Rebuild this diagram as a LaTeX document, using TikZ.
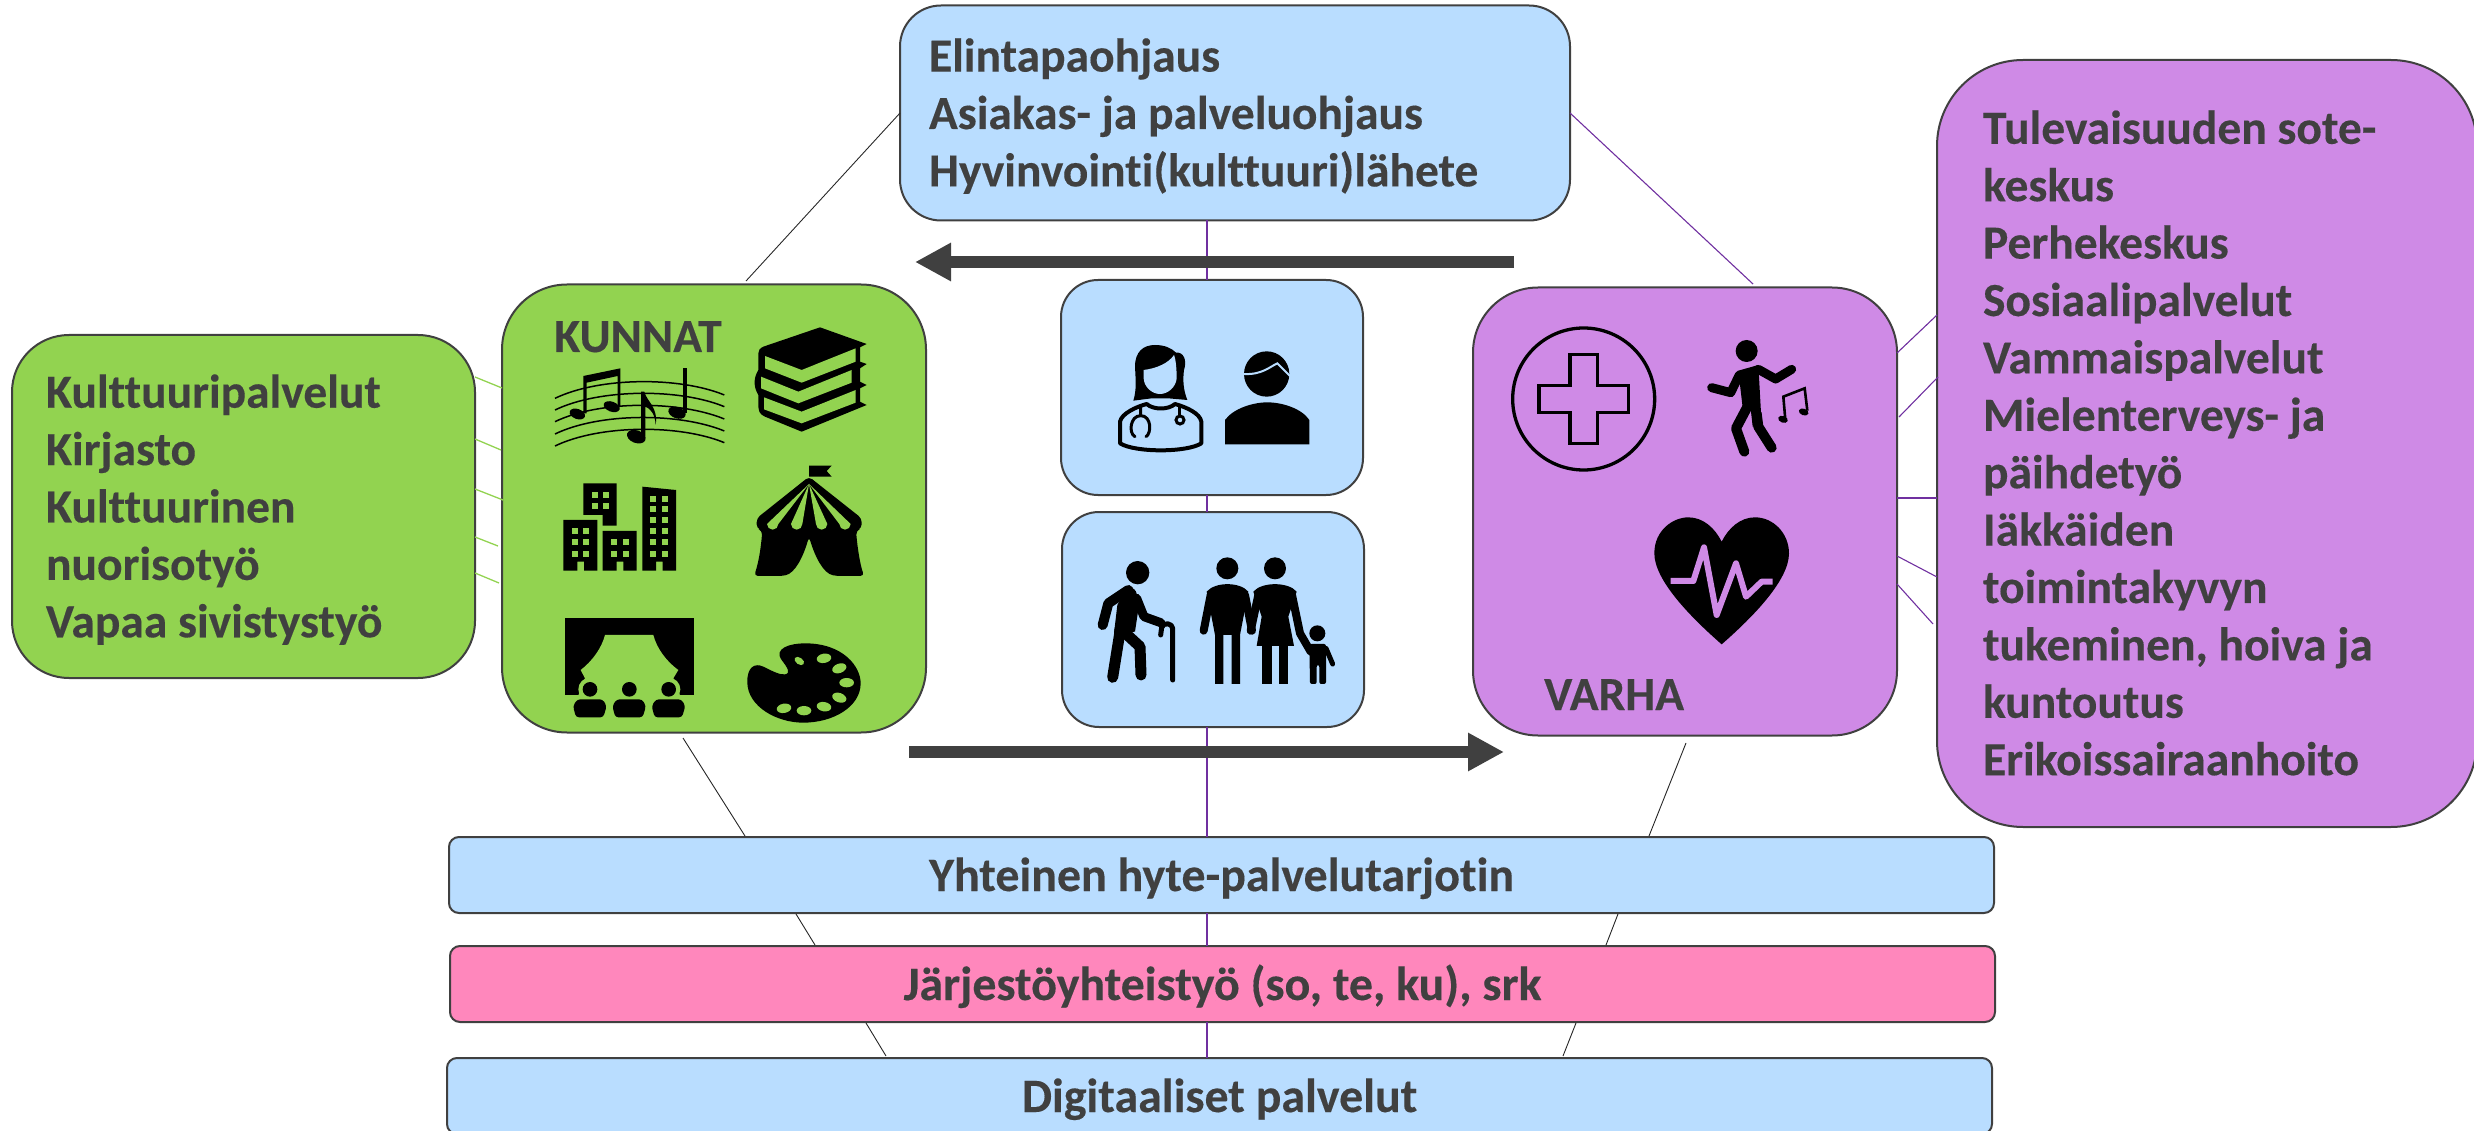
\documentclass[tikz,border=0pt]{standalone}
\usepackage{fontspec}
\setmainfont{Carlito}[Ligatures=NoCommon,BoldFeatures={FakeBold=0.25}]
\usetikzlibrary{arrows.meta,calc}
\definecolor{kgreen}{HTML}{92D350}
\definecolor{kblue}{HTML}{B9DDFF}
\definecolor{kpurple}{HTML}{CF8AE6}
\definecolor{kpink}{HTML}{FF87BC}
\definecolor{kdark}{HTML}{404040}
\definecolor{kline}{HTML}{7030A0}
\newcommand\bstrut{\rule[-10pt]{0pt}{52pt}}
\tikzset{
 basebox/.style={draw=kdark,line width=2pt,font=\fontsize{47.5}{57.4}\selectfont\bfseries,text=kdark,inner sep=0pt,outer sep=0pt,align=flush left},
 bigbox/.style={basebox,rounded corners=65pt},
 midbox/.style={basebox,rounded corners=37pt},
 barbox/.style={basebox,rounded corners=10pt,align=center,minimum width=1545pt,minimum height=76pt,font=\fontsize{47.9}{57.4}\selectfont\bfseries},
 tag/.style={font=\fontsize{47.5}{57.4}\selectfont\bfseries,text=kdark,inner sep=0pt,anchor=base west},
 purpleline/.style={draw=kline,line width=1.1pt},
 darkline/.style={draw=black!85,line width=0.9pt},
 greenline/.style={draw=kgreen,line width=1.3pt},
 flow/.style={draw=kdark,line width=12pt,-{Triangle[length=36pt,width=36pt]}},
 limb/.style={line cap=round,line join=round},
}
\begin{document}
\begin{tikzpicture}[x=1pt,y=-1pt]
\useasboundingbox (0,0) rectangle (2474,1131);
% boxes
\node[basebox,rounded corners=41pt,fill=kblue,minimum width=670pt,minimum height=215pt,text width=612pt] (top) at (1235,113)
 {\bstrut Elintapaohjaus\\Asiakas- ja palveluohjaus\\Hyvinvointi(kulttuuri)lähete\bstrut};
\node[bigbox,fill=kgreen,minimum width=424pt,minimum height=448pt] (kunnat) at (714,508.5) {};
\node[bigbox,fill=kpurple,minimum width=424pt,minimum height=448pt] (varha) at (1685,511.5) {};
\node[midbox,fill=kblue,minimum width=302pt,minimum height=215pt] (people) at (1212,387.5) {};
\node[midbox,fill=kblue,minimum width=302pt,minimum height=215pt] (family) at (1213,619.5) {};
\node[basebox,rounded corners=57pt,fill=kgreen,minimum width=463pt,minimum height=343pt,text width=395pt] (culture) at (243.5,506.5)
 {\bstrut Kulttuuripalvelut\\Kirjasto\\Kulttuurinen\\nuorisotyö\\Vapaa sivistystyö\bstrut};
\node[basebox,rounded corners=86pt,fill=kpurple,minimum width=540pt,minimum height=767pt,text width=448pt] (sote) at (2207,443.5)
 {\bstrut Tulevaisuuden sote-\\keskus\\Perhekeskus\\Sosiaalipalvelut\\Vammaispalvelut\\Mielenterveys- ja\\päihdetyö\\Iäkkäiden\\toimintakyvyn\\tukeminen, hoiva ja\\kuntoutus\\Erikoissairaanhoito\bstrut};
\node[barbox,fill=kblue] (bar1) at (1221.5,875) {\bstrut Yhteinen hyte-palvelutarjotin};
\node[barbox,fill=kpink] (bar2) at (1222.5,984) {\bstrut Järjestöyhteistyö (so, te, ku), srk};
\node[barbox,fill=kblue] (bar3) at (1219.5,1096) {\bstrut Digitaaliset palvelut};
\node[tag] (kunnattag) at (554,352) {KUNNAT};
\node[tag] (varhatag) at (1544,710) {VARHA};
% connector ends
\coordinate (cx) at (1207,0);
\coordinate (tl) at (746,281); \coordinate (tlb) at (900,113);
\coordinate (tr) at (1753,284); \coordinate (trb) at (1570,113);
\coordinate (kb) at (683,738); \coordinate (kb1) at (745,836);
\coordinate (kc) at (796,914); \coordinate (kc1) at (815,945);
\coordinate (kd) at (866,1023); \coordinate (kd1) at (886,1056);
\coordinate (vb) at (1686,743); \coordinate (vb1) at (1649,836);
\coordinate (vc) at (1618,914); \coordinate (vc1) at (1606,945);
\coordinate (vd) at (1576,1023); \coordinate (vd1) at (1563,1056);
\coordinate (g1) at (475,377); \coordinate (g1e) at (502,388);
\coordinate (g2) at (475,439); \coordinate (g2e) at (501,450);
\coordinate (g3) at (475,489); \coordinate (g3e) at (503,500);
\coordinate (g4) at (475,537); \coordinate (g4e) at (498,546);
\coordinate (g5) at (475,573); \coordinate (g5e) at (499,583);
\coordinate (p1) at (1897,353); \coordinate (p1e) at (1937,315);
\coordinate (p2) at (1899,417); \coordinate (p2e) at (1938,377);
\coordinate (p3) at (1897,498); \coordinate (p3e) at (1937,498);
\coordinate (p4) at (1897,556); \coordinate (p4e) at (1937,577);
\coordinate (p5) at (1897,584); \coordinate (p5e) at (1933,624);
\coordinate (a1s) at (1514,262); \coordinate (a1e) at (915,262);
\coordinate (a2s) at (909,752); \coordinate (a2e) at (1504,752);
% connectors
\draw[purpleline] (top.south -| cx) -- (people.north -| cx);
\draw[purpleline] (people.south -| cx) -- (family.north -| cx);
\draw[purpleline] (family.south -| cx) -- (bar1.north -| cx);
\draw[purpleline] (bar1.south -| cx) -- (bar2.north -| cx);
\draw[purpleline] (bar2.south -| cx) -- (bar3.north -| cx);
\draw[darkline] (tlb) -- (tl);
\draw[purpleline] (trb) -- (tr);
\draw[darkline] (kb) -- (kb1);
\draw[darkline] (kc) -- (kc1);
\draw[darkline] (kd) -- (kd1);
\draw[darkline] (vb) -- (vb1);
\draw[darkline] (vc) -- (vc1);
\draw[darkline] (vd) -- (vd1);
\foreach \n in {1,...,5}{
 \draw[greenline] (g\n) -- (g\n e);
 \draw[purpleline] (p\n) -- (p\n e);
}
\draw[flow] (a1s) -- (a1e);
\draw[flow] (a2s) -- (a2e);
% ---------- KUNNAT icons (coordinates of the 3x crop)
\begin{scope}[shift={(490pt,-270pt)},x=0.33333pt,y=-0.33333pt]
 % music
 \foreach \d/\e in {0/0,35/35,70/72,107/108,143/143}{
  \draw[black,line width=1.5pt] (195,385+\d) .. controls (330,320+\d) and (570,320+\e) .. (703,375+\e);
 }
 \fill (280,318) -- (391,295) -- (391,410) -- (383,410) -- (383,318) -- (290,338) -- (290,430) -- (280,430) -- cycle;
 \fill[rotate around={-20:(262,432)}] (262,432) ellipse [x radius=24,y radius=15];
 \fill[rotate around={-20:(365,410)}] (365,410) ellipse [x radius=25,y radius=15];
 \fill (453,365) -- (463,365) .. controls (470,395) and (505,410) .. (497,465) .. controls (495,430) and (480,415) .. (466,410) -- (466,500) -- (453,500) -- cycle;
 \fill[rotate around={-20:(439,500)}] (439,500) ellipse [x radius=29,y radius=19];
 \fill (579,293) -- (591,293) -- (591,430) -- (579,430) -- cycle;
 \fill[rotate around={-20:(561,428)}] (561,428) ellipse [x radius=27,y radius=17];
 % books
 \fill[line join=round] (820,230) -- (990,172) -- (1130,222) -- (1110,232) -- (1110,275) -- (1130,282) -- (1110,295) -- (1110,335) -- (1130,345) -- (1110,355) -- (1110,395) -- (1130,405) -- (935,485) -- (825,440) .. controls (808,432) and (805,425) .. (805,400) -- (805,375) .. controls (790,350) and (790,325) .. (805,300) -- (805,250) .. controls (805,240) and (810,235) .. (820,230) -- cycle;
 \fill[kgreen] (825,258) -- (935,300) -- (1097,235) -- (1097,275) -- (935,338) -- (825,295) -- cycle;
 \fill[kgreen] (813,320) -- (925,365) -- (1085,300) -- (1085,338) -- (925,400) -- (813,355) -- cycle;
 \fill[kgreen] (822,382) -- (935,425) -- (1097,360) -- (1097,398) -- (935,460) -- (822,418) -- cycle;
 % city
 \fill (280,640) -- (380,640) -- (380,767) -- (338,767) -- (338,735) -- (280,735) -- cycle;
 \fill (220,750) -- (322,750) -- (322,902) -- (282,902) -- (282,875) -- (262,875) -- (262,902) -- (220,902) -- cycle;
 \fill (338,783) -- (440,783) -- (440,902) -- (400,902) -- (400,875) -- (380,875) -- (380,902) -- (338,902) -- cycle;
 \fill (457,650) -- (558,660) -- (558,902) -- (518,902) -- (518,875) -- (498,875) -- (498,902) -- (457,902) -- cycle;
 \foreach \wx/\wy in {305/666,339/666,305/699,339/699,
   246/775,280/775,246/808,280/808,246/842,280/842,
   364/808,398/808,364/842,398/842,
   481/678,515/678,481/709,515/709,481/742,515/742,481/775,515/775,481/808,515/808,481/842,515/842}{
  \fill[kgreen] (\wx,\wy) rectangle ++(18,18);
 }
 % tent
 \fill (957,587) -- (1025,587) -- (1010,603) -- (1025,620) -- (957,620) -- cycle;
 \fill[rounded corners=4pt] (957,620) -- (1115,745) -- (1115,775) -- (1098,782) .. controls (1103,840) and (1112,890) .. (1123,918) -- (1040,918) .. controls (1000,910) and (975,860) .. (957,800) .. controls (940,860) and (915,910) .. (875,918) -- (792,918) .. controls (805,880) and (812,840) .. (817,782) -- (800,775) -- (800,745) -- cycle;
 \foreach \cx in {848,920,995,1065}{
  \fill[kgreen] (957,642) -- (\cx-17,762) arc[start angle=180,end angle=0,radius=17] -- cycle;
 }
 % stage
 \fill (224,1044) rectangle (612,1275);
 \fill[kgreen] (345,1095) -- (490,1095) .. controls (500,1135) and (530,1175) .. (565,1200) -- (550,1225) -- (570,1276) -- (265,1276) -- (285,1225) -- (272,1200) .. controls (305,1175) and (335,1135) .. (345,1095) -- cycle;
 \fill[kgreen] (300,1258) circle [radius=35];
 \fill[kgreen] (536,1258) circle [radius=35];
 \foreach \hx in {300,418,536}{
  \fill (\hx,1258) circle [radius=22];
  \fill[rounded corners=3pt] (\hx-38,1288) -- (\hx+38,1288) -- (\hx+50,1308) -- (\hx+40,1342) -- (\hx-42,1342) -- (\hx-51,1308) -- cycle;
 }
 % palette
 \fill (772,1240) .. controls (770,1190) and (795,1178) .. (820,1190) .. controls (850,1205) and (870,1215) .. (885,1213) .. controls (905,1210) and (890,1190) .. (875,1170) .. controls (850,1135) and (900,1120) .. (945,1120) .. controls (1060,1120) and (1112,1190) .. (1112,1240) .. controls (1112,1310) and (1030,1358) .. (940,1358) .. controls (860,1358) and (775,1310) .. (772,1240) -- cycle;
 \fill[kgreen,rotate around={-35:(928,1173)}] (928,1173) ellipse [x radius=16,y radius=10];
 \foreach \px/\py/\pa in {1002/1165/10,1048/1195/20,1070/1238/0,1048/1283/-20,1002/1310/-10,942/1322/0,882/1315/10}{
  \fill[kgreen,rotate around={\pa:(\px,\py)}] (\px,\py) ellipse [x radius=22,y radius=14];
 }
\end{scope}
% ---------- centre icons
\begin{scope}[shift={(1040pt,-270pt)},x=0.33333pt,y=-0.33333pt]
 % doctor
 \fill (285,290) .. controls (285,245) and (310,225) .. (345,225) .. controls (375,225) and (395,235) .. (408,248) .. controls (430,245) and (442,270) .. (432,300) .. controls (428,330) and (430,360) .. (442,390) -- (385,385) -- (335,385) -- (280,392) .. controls (290,360) and (287,330) .. (285,290) -- cycle;
 \fill[kblue] (311,300) .. controls (350,295) and (385,280) .. (402,255) .. controls (408,270) and (410,300) .. (410,325) .. controls (408,350) and (385,372) .. (360,372) .. controls (335,372) and (312,350) .. (311,325) -- cycle;
 \draw[line width=4pt,line join=round,fill=kblue] (240,520) -- (240,455) .. controls (245,430) and (290,410) .. (320,402) .. controls (340,420) and (385,420) .. (405,402) .. controls (440,412) and (480,430) .. (484,455) -- (484,520) .. controls (440,548) and (285,548) .. (240,520) -- cycle;
 \draw[line width=3pt,line cap=round] (302,408) -- (302,437) (285,500) .. controls (265,490) and (270,437) .. (302,437) .. controls (335,437) and (335,490) .. (318,500);
 \draw[line width=3pt] (418,408) -- (418,437);
 \draw[line width=3pt] (420,450) circle [radius=12];
 % man
 \fill (680,312) circle [radius=68];
 \draw[kblue,line width=2pt] (612,312) .. controls (665,315) and (690,290) .. (712,280) -- (750,318);
 \fill (555,523) -- (555,450) .. controls (580,415) and (640,397) .. (682,397) .. controls (725,397) and (785,415) .. (808,450) -- (808,523) -- cycle;
 % old man
 \fill (293,908) circle [radius=35];
 \draw[limb,line width=10pt] (188,1065) -- (205,1000) -- (265,960);
 \draw[limb,line width=15pt] (268,975) -- (245,1085);
 \fill (232,1005) -- (265,948) -- (300,985) -- (285,1085) -- (222,1090) -- cycle;
 \draw[limb,line width=11pt] (240,1085) -- (218,1222);
 \draw[limb,line width=11pt] (262,1095) -- (300,1130) -- (303,1215);
 \draw[limb,line width=9pt] (290,985) -- (312,1040) -- (362,1058);
 \draw[limb,line width=5pt] (398,1230) -- (398,1075) .. controls (398,1060) and (370,1055) .. (365,1072) -- (362,1095);
 % couple
 \fill (562,895) circle [radius=33];
 \fill (705,895) circle [radius=33];
 \fill (500,965) .. controls (525,935) and (600,935) .. (625,965) -- (600,1095) -- (600,1242) -- (575,1242) -- (575,1095) -- (550,1095) -- (550,1242) -- (525,1242) -- (525,1095) -- cycle;
 \draw[limb,line width=8pt] (512,975) -- (491,1082);
 \draw[limb,line width=8pt] (615,975) -- (636,1082);
 \fill (640,965) .. controls (665,935) and (745,935) .. (770,965) -- (745,1040) -- (762,1128) -- (650,1128) -- (665,1040) -- cycle;
 \fill (667,1125) rectangle (695,1242);
 \fill (716,1125) rectangle (744,1242);
 \draw[limb,line width=8pt] (655,975) -- (632,1082);
 \draw[limb,line width=8pt] (756,975) -- (780,1090) -- (812,1145);
 \fill (832,1090) circle [radius=24];
 \fill[rounded corners=2pt] (808,1122) -- (858,1122) -- (858,1242) -- (838,1242) -- (838,1185) -- (830,1185) -- (830,1242) -- (810,1242) -- cycle;
 \draw[limb,line width=5pt] (858,1135) -- (878,1182);
\end{scope}
% ---------- VARHA icons
\begin{scope}[shift={(1460pt,-280pt)},x=0.33333pt,y=-0.33333pt]
 \draw[line width=3.3pt] (371,357) circle [radius=213];
 \draw[line width=3.3pt] (330,223) -- (412,223) -- (412,317) -- (505,317) -- (505,397) -- (412,397) -- (412,490) -- (330,490) -- (330,397) -- (237,397) -- (237,317) -- (330,317) -- cycle;
 % dancer
 \fill (860,213) circle [radius=33];
 \fill (835,272) -- (895,255) -- (905,435) -- (878,440) -- (872,385) -- (850,400) -- cycle;
 \draw[limb,line width=9pt] (838,285) -- (812,338) -- (755,323);
 \draw[limb,line width=9pt] (895,268) -- (947,297) -- (995,268);
 \draw[limb,line width=10pt] (865,375) -- (828,445) -- (853,515);
 \draw[limb,line width=10pt] (890,400) -- (895,440) -- (935,503);
 \draw[line width=2.6pt,line join=miter] (976,420) -- (970,350) -- (1034,325) -- (1042,392);
 \fill[rotate around={-20:(969,418)}] (969,418) ellipse [x radius=15,y radius=10];
 \fill[rotate around={-20:(1031,396)}] (1031,396) ellipse [x radius=15,y radius=10];
 % heart
 \fill (785,1093) .. controls (690,1010) and (583,900) .. (583,820) .. controls (583,750) and (640,712) .. (685,712) .. controls (730,712) and (765,745) .. (785,785) .. controls (805,745) and (840,712) .. (885,712) .. controls (940,712) and (987,760) .. (987,820) .. controls (987,900) and (880,1010) .. (785,1093) -- cycle;
 \draw[kpurple,line width=6pt,line join=round] (632,903) -- (700,903) -- (732,802) -- (770,1005) -- (828,850) -- (858,950) -- (905,905) -- (938,905);
\end{scope}
\end{tikzpicture}
\end{document}
